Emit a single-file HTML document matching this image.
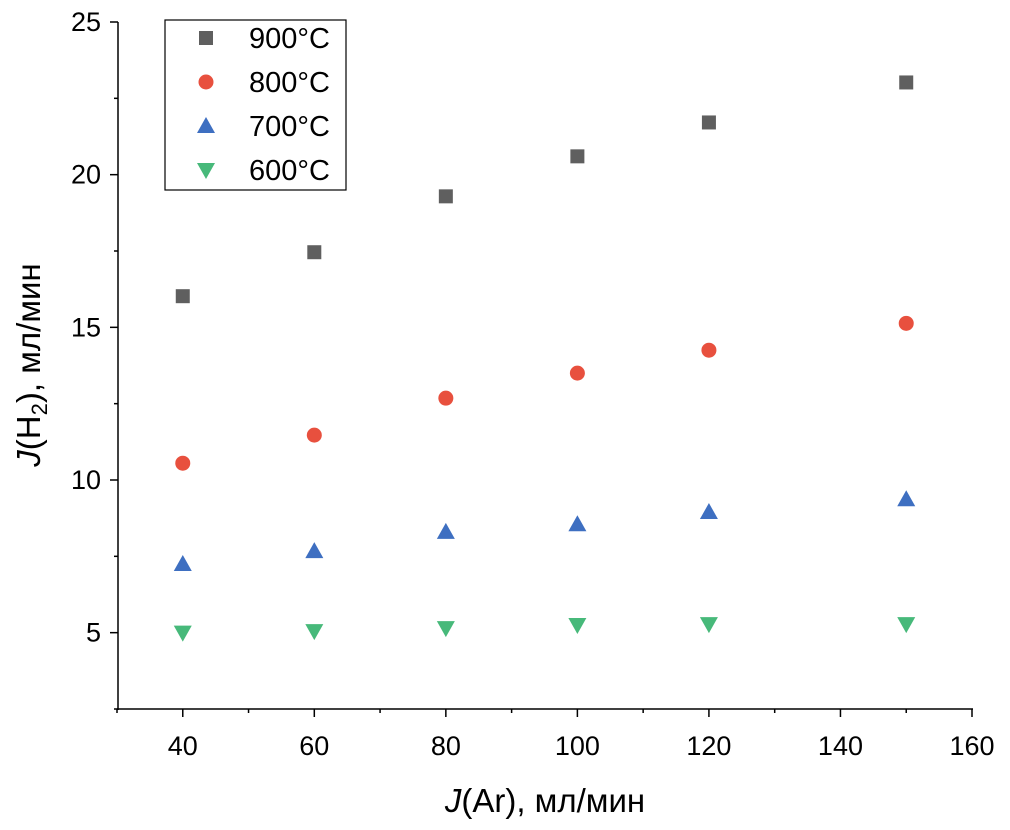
<!DOCTYPE html>
<html><head><meta charset="utf-8"><style>
html,body{margin:0;padding:0;background:#fff;}
svg{display:block;font-family:"Liberation Sans",Arial,sans-serif;}
</style></head><body>
<svg id="chart" width="1010" height="830"></svg>
<script>
const xValues=[40,60,80,100,120,150];
const s900=[16.02,17.46,19.29,20.6,21.71,23.02];
const s800=[10.55,11.47,12.68,13.5,14.25,15.13];
const s700=[7.25,7.67,8.3,8.55,8.95,9.37];
const s600=[5.0,5.05,5.15,5.25,5.28,5.28];
const xTicks=[40,60,80,100,120,140,160];
const yTicks=[5,10,15,20,25];
const seriesNames=["900°C","800°C","700°C","600°C"];

const NS="http://www.w3.org/2000/svg";
const svg=document.getElementById('chart');
function X(v){return 117+(v-30)*(972-117)/130;}
function Y(v){return 709-(v-2.5)*(709-22)/22.5;}
function mk(t,a,p){const e=document.createElementNS(NS,t);for(const k in a)e.setAttribute(k,a[k]);(p||svg).appendChild(e);return e;}

const axes=mk('g',{});


mk('line',{x1:118,y1:22,x2:118,y2:710,stroke:'#000','stroke-width':1.5},axes);
mk('line',{x1:117,y1:709,x2:973,y2:709,stroke:'#000','stroke-width':1.5},axes);
for(let v=30;v<=160;v+=10){const major=xTicks.includes(v);mk('line',{x1:X(v),x2:X(v),y1:709,y2:major?717:713,stroke:'#000','stroke-width':1.5},axes);}
for(let v=2.5;v<=25;v+=2.5){const major=yTicks.includes(v);mk('line',{x1:118,x2:major?110:114,y1:Y(v),y2:Y(v),stroke:'#000','stroke-width':1.5},axes);}
xTicks.forEach(v=>{const t=mk('text',{x:X(v),y:755,'text-anchor':'middle','font-size':27,fill:'#000'});t.textContent=v;

});
yTicks.forEach(v=>{const t=mk('text',{x:101,y:Y(v)+9,'text-anchor':'end','font-size':27,fill:'#000'});t.textContent=v;

});

const xt=mk('text',{x:545,y:812,'text-anchor':'middle','font-size':33,fill:'#000'});
xt.innerHTML='<tspan font-style="italic">J</tspan>(Ar), мл/мин';


const yt=mk('text',{x:0,y:0,'text-anchor':'middle','font-size':33,fill:'#000',transform:'translate(40,365) rotate(-90)'});
yt.innerHTML='<tspan font-style="italic">J</tspan>(H<tspan font-size="22" dy="7">2</tspan><tspan dy="-7">), мл/мин</tspan>';



const colors=['#5f5f5f','#e8503e','#3e6fc1','#47b97a'];
function marker(k,cx,cy,p){
  if(k===0)return mk('rect',{x:cx-7,y:cy-7,width:14,height:14,fill:colors[0]},p);
  if(k===1)return mk('circle',{cx:cx,cy:cy,r:7.5,fill:colors[1]},p);
  if(k===2)return mk('polygon',{points:`${cx-9},${cy+7} ${cx+9},${cy+7} ${cx},${cy-9}`,fill:colors[2]},p);
  return mk('polygon',{points:`${cx-9},${cy-7} ${cx+9},${cy-7} ${cx},${cy+9}`,fill:colors[3]},p);
}
[s900,s800,s700,s600].forEach((s,k)=>{
  const g=mk('g',{});
  
  
  s.forEach((v,i)=>{const m=marker(k,X(xValues[i]),Y(v),g);
    
    });
});

const lg=mk('g',{});


mk('rect',{x:165,y:20,width:181,height:170,fill:'#fff',stroke:'#000','stroke-width':1.2},lg);
seriesNames.forEach((n,k)=>{
  const e=mk('g',{},lg);
  
  
  const cy=38+k*44;
  marker(k,206,cy,e);
  const t=mk('text',{x:249,y:cy+10,'font-size':29,fill:'#000'},e);t.textContent=n;
});
</script>
</body></html>
